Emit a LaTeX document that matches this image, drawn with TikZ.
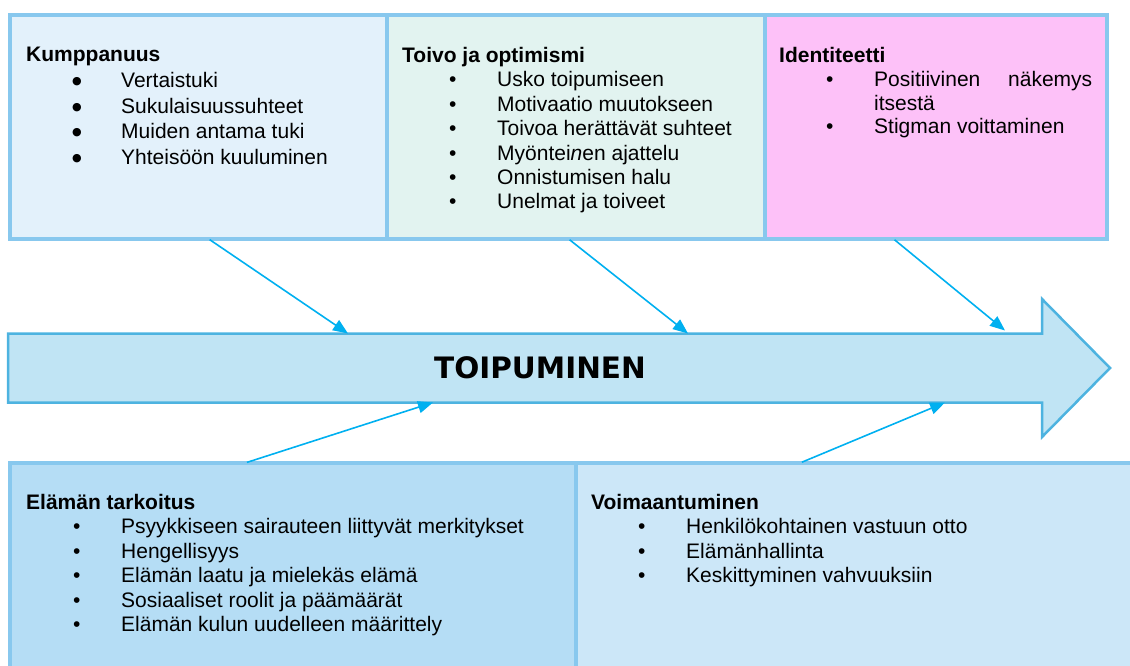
\documentclass[tikz,border=0pt]{standalone}
\usepackage{fontspec}
\setmainfont{Liberation Sans}
\newfontfamily\headfont{DejaVu Sans}
\usetikzlibrary{arrows.meta}

\definecolor{kumpFill}{HTML}{E3F1FB}
\definecolor{toivoFill}{HTML}{E2F3F0}
\definecolor{identFill}{HTML}{FDC1F8}
\definecolor{elamaFill}{HTML}{B5DDF5}
\definecolor{voimaFill}{HTML}{CCE7F8}
\definecolor{boxLine}{HTML}{88C8EE}
\definecolor{arrowFill}{HTML}{C0E4F4}
\definecolor{arrowLine}{HTML}{4DB3E0}
\definecolor{linkBlue}{HTML}{00B0F0}

% list items: bullet, then text
\newcommand{\itm}[1]{\hspace*{47pt}\makebox[48pt][l]{•}#1}
\newcommand{\bigitm}[1]{\hspace*{46pt}\makebox[49pt][l]{\raisebox{3pt}{\headfont\fontsize{11pt}{11pt}\selectfont ●}}#1}

\tikzset{
  box/.style={draw=boxLine, line width=4pt, inner sep=0pt, outer sep=0pt, anchor=north west},
  listtext/.style={anchor=north west, align=left, inner sep=0pt, font=\fontsize{21pt}{24.5pt}\selectfont},
  link/.style={draw=linkBlue, line width=1.6pt, -{Triangle[length=15pt,width=12pt]}, shorten <=2pt},
}

\begin{document}
\begin{tikzpicture}[x=1pt,y=-1pt]
  \useasboundingbox (0,0) rectangle (1130,666);
  \clip (0,0) rectangle (1130,666);

  % top row
  \node[box, fill=kumpFill, minimum width=377pt, minimum height=223pt] (kump) at (10,15.5) {};
  \node[box, fill=toivoFill, minimum width=378pt, minimum height=223pt] (toivo) at (387,15.5) {};
  \node[box, fill=identFill, minimum width=342pt, minimum height=223pt] (ident) at (765,15.5) {};

  % bottom row
  \node[box, fill=elamaFill, minimum width=566pt, minimum height=230pt] (elama) at (10,463) {};
  \node[box, fill=voimaFill, minimum width=570pt, minimum height=230pt] (voima) at (576,463) {};

  % big arrow
  \node[inner sep=0pt, outer sep=0pt, minimum width=1034pt, minimum height=69pt] (body) at (525,368) {};
  \coordinate (tipPt) at (1110,368);
  \filldraw[fill=arrowFill, draw=arrowLine, line width=2.5pt]
    (body.north west) -- (body.north east) -- ([yshift=34.5pt]body.north east) -- (tipPt)
    -- ([yshift=-34.5pt]body.south east) -- (body.south east) -- (body.south west) -- cycle;
  \node[font=\headfont\fontsize{29.5pt}{31pt}\selectfont\bfseries] (toipText) at (540,368) {TOIPUMINEN};

  % texts
  \node[listtext, font=\fontsize{21pt}{25.7pt}\selectfont] (kumpList) at (26,47) {\textbf{Kumppanuus}\\
    \bigitm{Vertaistuki}\\
    \bigitm{Sukulaisuussuhteet}\\
    \bigitm{Muiden antama tuki}\\
    \bigitm{Yhteisöön kuuluminen}};
  \node[listtext, font=\fontsize{21pt}{24.4pt}\selectfont] (toivoList) at (402,47) {\textbf{Toivo ja optimismi}\\
    \itm{Usko toipumiseen}\\
    \itm{Motivaatio muutokseen}\\
    \itm{Toivoa herättävät suhteet}\\
    \itm{Myöntei\textit{n}en ajattelu}\\
    \itm{Onnistumisen halu}\\
    \itm{Unelmat ja toiveet}};
  \node[listtext, font=\fontsize{21pt}{23.8pt}\selectfont] (identList) at (779,47) {\textbf{Identiteetti}\\
    \itm{\makebox[218pt][s]{Positiivinen näkemys}}\\
    \hspace*{95pt}itsestä\\
    \itm{Stigman voittaminen}};
  \node[listtext] (elamaList) at (26,494) {\textbf{Elämän tarkoitus}\\
    \itm{Psyykkiseen sairauteen liittyvät merkitykset}\\
    \itm{Hengellisyys}\\
    \itm{Elämän laatu ja mielekäs elämä}\\
    \itm{Sosiaaliset roolit ja päämäärät}\\
    \itm{Elämän kulun uudelleen määrittely}};
  \node[listtext] (voimaList) at (591,494) {\textbf{Voimaantuminen}\\
    \itm{Henkilökohtainen vastuun otto}\\
    \itm{Elämänhallinta}\\
    \itm{Keskittyminen vahvuuksiin}};

  % connectors
  \draw[link] ([xshift=9.5pt]kump.south) -- ([xshift=-177pt]body.north);
  \draw[link] ([xshift=-8pt]toivo.south) -- ([xshift=163pt]body.north);
  \draw[link] ([xshift=-43pt]ident.south) -- ([xshift=480pt,yshift=3pt]body.north);
  \draw[link] ([xshift=-48pt]elama.north) -- ([xshift=-92pt]body.south);
  \draw[link] ([xshift=-61pt]voima.north) -- ([xshift=420pt]body.south);
\end{tikzpicture}
\end{document}
